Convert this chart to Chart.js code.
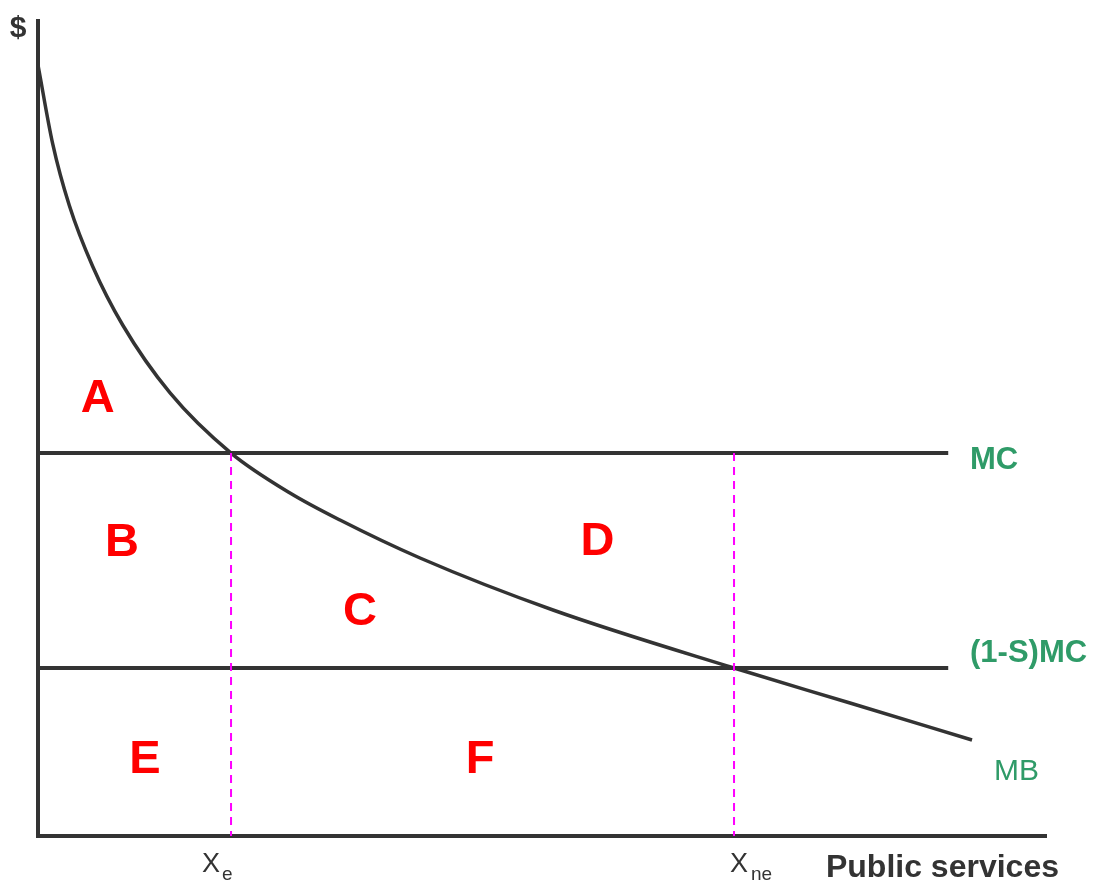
<!DOCTYPE html>
<html>
<head>
<meta charset="utf-8">
<title>Public services subsidy</title>
<script src="https://cdn.jsdelivr.net/npm/chart.js@4.4.0/dist/chart.umd.min.js"></script>
<style>
    html, body { margin: 0; padding: 0; background: #fff; }
    canvas { display: block; }
</style>
</head>
<body>
<canvas id="chart" width="1095" height="884"></canvas>
<script>
// quantity of public services (0-100) and $ (0-100)
const mbX = [0, 1.46, 3.10, 5.43, 8.40, 13.10, 19.15, 25.0, 29.96, 37.90, 51.09, 69.05, 80.56, 92.66];
const mbY = [94.6, 84.92, 77.39, 69.88, 62.70, 54.37, 46.99, 42.09, 38.77, 34.11, 27.73, 20.61, 16.32, 11.78];

const mc = 47.0;
const subsidizedMc = 20.6;
const costLineEnd = 90.3;
const xe = 19.15;
const xne = 69.05;

const regionNames = ['A', 'B', 'C', 'D', 'E', 'F'];

const dark = '#333333';
const green = '#2f9b68';
const red = '#ff0000';
const magenta = '#ff00ff';

const mbPoints = mbX.map((x, i) => ({ x: x, y: mbY[i] }));

// text labels, placed in data units (y is the baseline)
const regionPos = [[5.93, 52.0], [8.33, 34.4], [31.94, 25.9], [55.5, 34.5], [10.61, 7.7], [43.85, 7.7]];

const textItems = [
    { text: '$', x: -1.98, y: 98.0, font: 'bold 30px "Liberation Sans"', color: dark, align: 'center' },
    { text: 'MC', x: 92.46, y: 45.0, font: 'bold 31px "Liberation Sans"', color: green, align: 'left' },
    { text: '(1-S)MC', x: 92.46, y: 21.35, font: 'bold 31px "Liberation Sans"', color: green, align: 'left' },
    { text: 'MB', x: 94.84, y: 6.87, font: '30px "Liberation Sans"', color: green, align: 'left' },
    { text: 'X', x: 16.27, y: -4.42, font: '27px "Liberation Sans"', color: dark, align: 'left' },
    { text: 'e', x: 18.25, y: -5.4, font: '19px "Liberation Sans"', color: dark, align: 'left' },
    { text: 'X', x: 68.65, y: -4.42, font: '27px "Liberation Sans"', color: dark, align: 'left' },
    { text: 'ne', x: 70.73, y: -5.4, font: '19px "Liberation Sans"', color: dark, align: 'left' },
    { text: 'Public services', x: 78.17, y: -5.03, font: 'bold 32px "Liberation Sans"', color: dark, align: 'left' }
];
regionNames.forEach((name, i) => {
    textItems.push({ text: name, x: regionPos[i][0], y: regionPos[i][1], font: 'bold 47px "Liberation Sans"', color: red, align: 'center' });
});

const labelPlugin = {
    id: 'labels',
    afterDraw(chart) {
        const ctx = chart.ctx;
        const xs = chart.scales.x;
        const ys = chart.scales.y;
        ctx.save();
        ctx.textBaseline = 'alphabetic';
        textItems.forEach(t => {
            ctx.font = t.font;
            ctx.fillStyle = t.color;
            ctx.textAlign = t.align;
            ctx.fillText(t.text, xs.getPixelForValue(t.x), ys.getPixelForValue(t.y));
        });
        ctx.restore();
    }
};

const lineStyle = { showLine: true, pointRadius: 0, borderColor: dark, borderWidth: 4, fill: false };

new Chart(document.getElementById('chart'), {
    type: 'scatter',
    data: {
        datasets: [
            { ...lineStyle, label: 'Xe', data: [{ x: xe, y: mc }, { x: xe, y: 0 }], borderColor: magenta, borderWidth: 2, borderDash: [8, 6] },
            { ...lineStyle, label: 'Xne', data: [{ x: xne, y: mc }, { x: xne, y: 0 }], borderColor: magenta, borderWidth: 2, borderDash: [8, 6] },
            { ...lineStyle, label: 'MC', data: [{ x: 0, y: mc }, { x: costLineEnd, y: mc }] },
            { ...lineStyle, label: '(1-S)MC', data: [{ x: 0, y: subsidizedMc }, { x: costLineEnd, y: subsidizedMc }] },
            { ...lineStyle, label: 'MB', data: mbPoints, borderWidth: 3.5, cubicInterpolationMode: 'monotone' }
        ]
    },
    options: {
        responsive: false,
        animation: false,
        layout: { padding: { left: 38, right: 49, top: 21, bottom: 48 } },
        plugins: { legend: { display: false }, tooltip: { enabled: false } },
        scales: {
            x: {
                type: 'linear', min: 0, max: 100,
                grid: { display: false, drawTicks: false },
                ticks: { display: false },
                border: { display: true, color: dark, width: 4 }
            },
            y: {
                type: 'linear', min: 0, max: 100,
                grid: { display: false, drawTicks: false },
                ticks: { display: false },
                border: { display: true, color: dark, width: 4 }
            }
        }
    },
    plugins: [labelPlugin]
});
</script>
</body>
</html>
